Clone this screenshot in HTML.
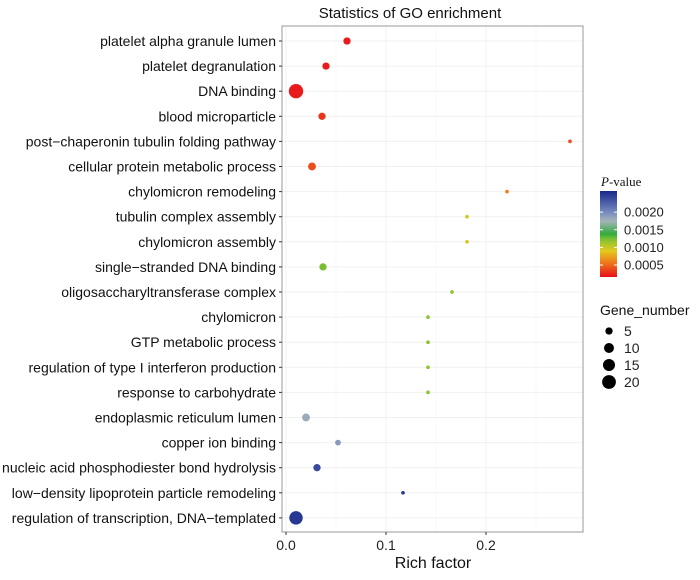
<!DOCTYPE html>
<html><head><meta charset="utf-8"><style>
body{margin:0;background:#fff;}
svg{font-family:"Liberation Sans",sans-serif;}
</style></head><body>
<svg id="chart" width="700" height="575">
<text x="410" y="18" text-anchor="middle" font-size="15" fill="#111">Statistics of GO enrichment</text>
<g id="grid"></g>
<rect x="282" y="26" width="301" height="506" fill="none" stroke="#999" stroke-width="1"/>
<g id="marks"></g>
<g id="axes"></g>
<text x="433" y="568" text-anchor="middle" font-size="16" fill="#111">Rich factor</text>
<g id="legend"></g>
</svg>
<script>
const terms=["platelet alpha granule lumen","platelet degranulation","DNA binding","blood microparticle","post\u2212chaperonin tubulin folding pathway","cellular protein metabolic process","chylomicron remodeling","tubulin complex assembly","chylomicron assembly","single\u2212stranded DNA binding","oligosaccharyltransferase complex","chylomicron","GTP metabolic process","regulation of type I interferon production","response to carbohydrate","endoplasmic reticulum lumen","copper ion binding","nucleic acid phosphodiester bond hydrolysis","low\u2212density lipoprotein particle remodeling","regulation of transcription, DNA\u2212templated"];
const richFactor=[0.061,0.040,0.010,0.036,0.284,0.026,0.221,0.181,0.181,0.037,0.166,0.142,0.142,0.142,0.142,0.020,0.052,0.031,0.117,0.010];
const geneNumber=[5,5,22,5,1,6,1,1,1,5,1,1,1,1,1,6,3,5,1,19];
const pValue=[0.0002,0.0002,0.0002,0.0003,0.0004,0.0004,0.0006,0.00095,0.00095,0.00125,0.0012,0.0012,0.0012,0.0012,0.0012,0.0018,0.0019,0.0024,0.0025,0.0025];
const xTicks=[0,0.1,0.2];
const xTickLabels=["0.0","0.1","0.2"];
const pTicks=[0.0020,0.0015,0.0010,0.0005];
const pTickLabels=["0.0020","0.0015","0.0010","0.0005"];
const sizeLegend=[5,10,15,20];

const NS="http://www.w3.org/2000/svg";
function mk(tag,attrs,parent){const e=document.createElementNS(NS,tag);for(const k in attrs)e.setAttribute(k,attrs[k]);parent.appendChild(e);return e;}
const xS=v=>286+v*1000;
const yS=i=>41+i*25.1;
const rS=n=>1.45*Math.sqrt(n)+0.4;
const pMin=0.00016,pMax=0.0026;
const stops=[[0,[232,16,28]],[0.15,[238,110,26]],[0.3,[228,200,30]],[0.43,[140,196,50]],[0.5,[50,170,60]],[0.65,[165,180,185]],[0.75,[120,140,190]],[1,[22,40,140]]];
function col(p){let t=(p-pMin)/(pMax-pMin);t=Math.max(0,Math.min(1,t));for(let i=1;i<stops.length;i++){if(t<=stops[i][0]){const a=stops[i-1],b=stops[i];const f=(t-a[0])/(b[0]-a[0]);const c=a[1].map((v,k)=>Math.round(v+(b[1][k]-v)*f));return `rgb(${c.join(',')})`;}}return 'rgb(22,40,140)';}

const grid=document.getElementById('grid');
[0.05,0.15,0.25].forEach(v=>{const l=mk('line',{x1:xS(v),x2:xS(v),y1:26,y2:532,stroke:'#f5f5f5','stroke-width':0.6},grid);});
xTicks.forEach(v=>{const l=mk('line',{x1:xS(v),x2:xS(v),y1:26,y2:532,stroke:'#f0f0f0','stroke-width':1},grid);});
terms.forEach((t,i)=>{const l=mk('line',{x1:282,x2:583,y1:yS(i),y2:yS(i),stroke:'#f0f0f0','stroke-width':1},grid);});

const axes=document.getElementById('axes');
terms.forEach((t,i)=>{
 const tk=mk('line',{x1:279,x2:282,y1:yS(i),y2:yS(i),stroke:'#333'},axes);
 
 const tx=mk('text',{x:276,y:yS(i)+5,'text-anchor':'end','font-size':14,fill:'#111'},axes);
 tx.textContent=t;
});
xTicks.forEach((v,i)=>{
 const tk=mk('line',{x1:xS(v),x2:xS(v),y1:532,y2:535,stroke:'#333'},axes);
 
 const tx=mk('text',{x:xS(v),y:550,'text-anchor':'middle','font-size':14,fill:'#222'},axes);
 tx.textContent=xTickLabels[i];
});

const marks=document.getElementById('marks');
terms.forEach((t,i)=>{
 const c=mk('circle',{cx:xS(richFactor[i]),cy:yS(i),r:rS(geneNumber[i]),fill:col(pValue[i])},marks);
 
});

const lg=document.getElementById('legend');
const pt=mk('text',{x:601,y:186,'font-size':13,fill:'#111','font-family':'Liberation Serif'},lg);
pt.innerHTML='<tspan font-style="italic">P</tspan>-value';

const defs=mk('defs',{},lg);
const gr=mk('linearGradient',{id:'pg',x1:0,y1:1,x2:0,y2:0},defs);
for(let k=0;k<=20;k++){mk('stop',{offset:k/20,'stop-color':col(pMin+(pMax-pMin)*k/20)},gr);}
const cbTop=191,cbBot=277;
const pY=p=>cbBot-(p-pMin)/(pMax-pMin)*(cbBot-cbTop);
const bar=mk('rect',{x:600,y:cbTop,width:17,height:cbBot-cbTop,fill:'url(#pg)'},lg);

pTicks.forEach((p,i)=>{
 const l=mk('line',{x1:600,x2:603,y1:pY(p),y2:pY(p),stroke:'#fff'},lg);
 const l2=mk('line',{x1:614,x2:617,y1:pY(p),y2:pY(p),stroke:'#fff'},lg);
 const tx=mk('text',{x:624,y:pY(p)+4.5,'font-size':13,fill:'#222'},lg);
 tx.textContent=pTickLabels[i];
});
const st=mk('text',{x:600,y:315,'font-size':14,fill:'#111'},lg);
st.textContent='Gene_number';
sizeLegend.forEach((n,i)=>{
 const y=331+i*17;
 const c=mk('circle',{cx:609,cy:y,r:rS(n),fill:'#000'},lg);
 
 const tx=mk('text',{x:624,y:y+5,'font-size':14,fill:'#222'},lg);
 tx.textContent=n;
});
</script>
</body></html>
